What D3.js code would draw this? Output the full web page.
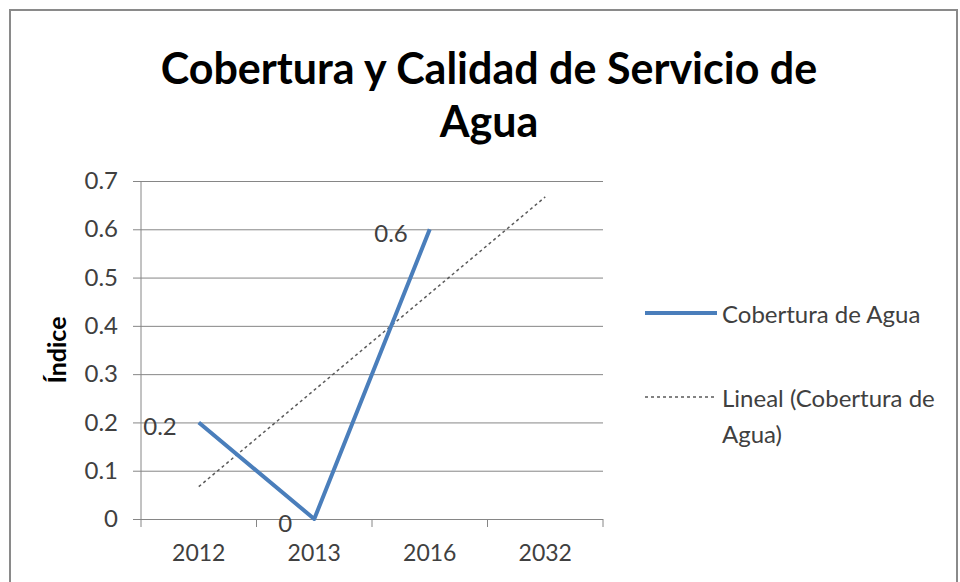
<!DOCTYPE html>
<html>
<head>
<meta charset="utf-8">
<script src="https://cdn.jsdelivr.net/npm/d3@7"></script>
<style>
  body { margin: 0; background: #fff; }
  text { font-family: Lato, "Open Sans", sans-serif; }
</style>
</head>
<body>
<script>
// chart data
const titleLines = ['Cobertura y Calidad de Servicio de', 'Agua'];
const categories = ['2012', '2013', '2016', '2032'];
const cobertura = [0.2, 0, 0.6, null];
const dataLabels = ['0.2', '0', '0.6', null];
// trend line (Lineal), start and end
const trendCats = ['2012', '2032'];
const trendValues = [0.067, 0.667];
const yTicks = [0, 0.1, 0.2, 0.3, 0.4, 0.5, 0.6, 0.7];
const seriesName = 'Cobertura de Agua';
const trendName = ['Lineal (Cobertura de', 'Agua)'];
const yTitle = 'Índice';

let width = 960,
  height = 582;

let margin = { top: 181, bottom: 62, left: 141, right: 357 };

let svg = d3.select('body')
  .append('svg')
    .attr('width', width)
    .attr('height', height);

// chart frame
svg.append('rect')
  .attr('x', 10).attr('y', 10)
  .attr('width', 947).attr('height', 620)
  .attr('fill', '#fff')
  .attr('stroke', '#8a8a8a')
  .attr('stroke-width', 2);

let xScale = d3.scaleBand()
  .domain(categories)
  .range([margin.left, width - margin.right]);

let yScale = d3.scaleLinear()
  .domain([0, 0.7])
  .range([height - margin.bottom - 1, margin.top]);

// title
svg.append('g')
  .selectAll('text')
  .data(titleLines)
  .enter()
  .append('text')
    .attr('x', 489)
    .attr('y', (d, i) => 84 + i * 53)
    .attr('text-anchor', 'middle')
    .style('font-size', '43px')
    .style('font-weight', 'bold')
    .style('fill', '#000')
    .text(d => d);

// y axis + gridlines
let yAxis = svg.append('g')
  .attr('transform', `translate(${margin.left},0)`)
  .call(d3.axisLeft(yScale)
    .tickValues(yTicks)
    .tickFormat(d => d === 0 ? '0' : d3.format('.1f')(d))
    .tickSize(-(width - margin.left - margin.right))
    .tickPadding(23));

yAxis.select('.domain').remove();
yAxis.selectAll('.tick line')
  .attr('x1', -8)
  .attr('stroke', '#868686');
yAxis.selectAll('.tick text')
  .style('font-size', '24px')
  .style('fill', '#404040');

// vertical axis line
svg.append('line')
  .attr('x1', margin.left).attr('x2', margin.left)
  .attr('y1', yScale(0.7)).attr('y2', yScale(0) + 8)
  .attr('stroke', '#868686');

// x axis labels
let xAxis = svg.append('g')
  .attr('transform', `translate(0,${yScale(0)})`)
  .call(d3.axisBottom(xScale).tickSize(0).tickPadding(26));
xAxis.select('.domain').remove();
xAxis.selectAll('.tick text')
  .style('font-size', '23px')
  .style('fill', '#404040');

// tick marks on category boundaries
svg.append('g')
  .selectAll('line')
  .data(categories)
  .enter()
  .append('line')
    .attr('x1', d => xScale(d) + xScale.bandwidth())
    .attr('x2', d => xScale(d) + xScale.bandwidth())
    .attr('y1', yScale(0))
    .attr('y2', yScale(0) + 8)
    .attr('stroke', '#868686');

let cx = d => xScale(d) + xScale.bandwidth() / 2;

// trend line
let trend = trendCats.map((c, i) => [c, trendValues[i]]);
svg.append('path')
  .datum(trend)
  .attr('d', d3.line().x(d => cx(d[0])).y(d => yScale(d[1])))
  .attr('fill', 'none')
  .attr('stroke', '#5a5a5a')
  .attr('stroke-width', 1.5)
  .attr('stroke-dasharray', '3,3');

// series line
let pts = categories.map((c, i) => [c, cobertura[i]]).filter(d => d[1] !== null);
svg.append('path')
  .datum(pts)
  .attr('d', d3.line().x(d => cx(d[0])).y(d => yScale(d[1])))
  .attr('fill', 'none')
  .attr('stroke', '#4a7ebb')
  .attr('stroke-width', 4)
  .attr('stroke-linejoin', 'round');

// data labels
svg.append('g')
  .selectAll('text')
  .data(pts)
  .enter()
  .append('text')
    .attr('x', d => cx(d[0]) - 22)
    .attr('y', d => yScale(d[1]) + 3)
    .attr('text-anchor', 'end')
    .attr('dominant-baseline', 'central')
    .style('font-size', '24px')
    .style('fill', '#404040')
    .text(d => dataLabels[categories.indexOf(d[0])]);

// y title
svg.append('text')
  .attr('transform', 'translate(66,350) rotate(-90)')
  .attr('text-anchor', 'middle')
  .style('font-size', '25px')
  .style('font-weight', 'bold')
  .style('fill', '#000')
  .text(yTitle);

// legend
let legend = svg.append('g');
legend.append('line')
  .attr('x1', 645).attr('x2', 717)
  .attr('y1', 313).attr('y2', 313)
  .attr('stroke', '#4a7ebb')
  .attr('stroke-width', 4);
legend.append('text')
  .attr('x', 722).attr('y', 313)
  .attr('dominant-baseline', 'central')
  .style('font-size', '24px')
  .style('fill', '#404040')
  .text(seriesName);

legend.append('line')
  .attr('x1', 645).attr('x2', 717)
  .attr('y1', 397).attr('y2', 397)
  .attr('stroke', '#5a5a5a')
  .attr('stroke-width', 1.5)
  .attr('stroke-dasharray', '3,3');
legend.selectAll('.trendtxt')
  .data(trendName)
  .enter()
  .append('text')
    .attr('class', 'trendtxt')
    .attr('x', 722)
    .attr('y', (d, i) => 397 + i * 36)
    .attr('dominant-baseline', 'central')
    .style('font-size', '24px')
    .style('fill', '#404040')
    .text(d => d);
</script>
</body>
</html>
